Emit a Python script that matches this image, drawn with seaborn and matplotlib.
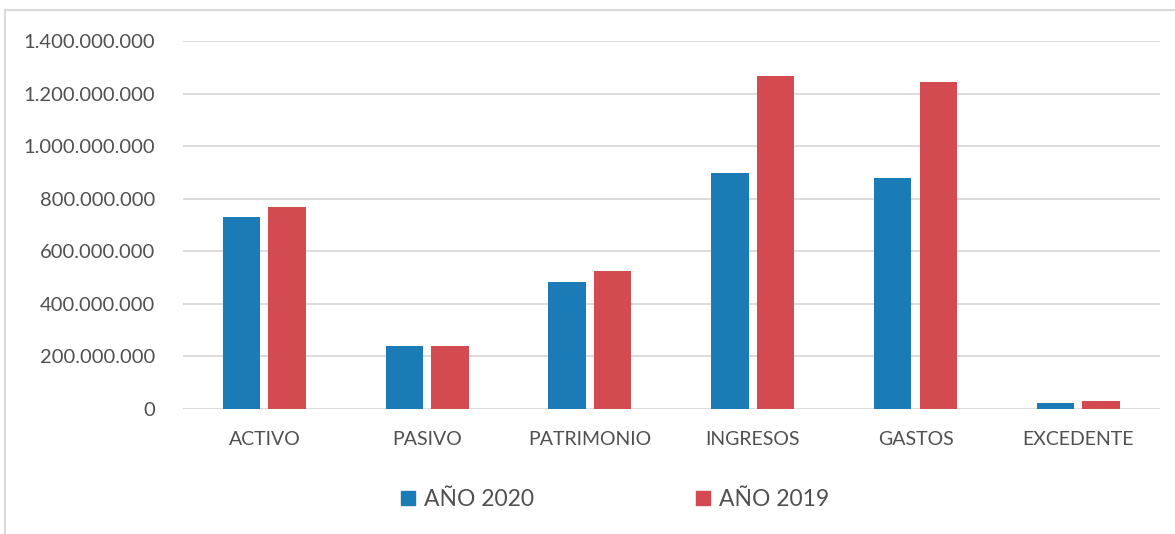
import matplotlib
matplotlib.use("Agg")
import matplotlib.pyplot as plt
import matplotlib.ticker as mticker
from matplotlib.lines import Line2D
import seaborn as sns
import pandas as pd

# datos
categorias = ["ACTIVO", "PASIVO", "PATRIMONIO", "INGRESOS", "GASTOS", "EXCEDENTE"]
anio_2020 = [729e6, 240e6, 484e6, 897e6, 881e6, 22e6]
anio_2019 = [770e6, 240e6, 526e6, 1268e6, 1243e6, 30e6]
series = ["AÑO 2020", "AÑO 2019"]
colores = ["#1B7BB6", "#D34A50"]

df = pd.DataFrame({
    "Categoria": categorias * 2,
    "Valor": anio_2020 + anio_2019,
    "Serie": [series[0]] * len(categorias) + [series[1]] * len(categorias),
})

sns.set_theme(style="white")
plt.rcParams["font.family"] = ["Lato", "DejaVu Sans"]

fig = plt.figure(figsize=(11.75, 5.34), dpi=100)
ax = fig.add_axes([0.1557, 0.234, 0.987 - 0.1557, 0.923 - 0.234])

sns.barplot(data=df, x="Categoria", y="Valor", hue="Serie", palette=colores,
            width=0.56, gap=0.18, ax=ax, legend=False, saturation=1,
            edgecolor="none")

ax.set_ylim(0, 1.4e9)
ax.set_xlim(-0.5, len(categorias) - 0.5)
ax.yaxis.set_major_locator(mticker.MultipleLocator(2e8))
ax.yaxis.set_major_formatter(
    mticker.FuncFormatter(lambda v, p: f"{int(v):,}".replace(",", ".")))
ax.grid(axis="y", color="#D9D9D9", linewidth=1.3)
ax.set_axisbelow(True)
for s in ax.spines.values():
    s.set_visible(False)
ax.set_xlabel("")
ax.set_ylabel("")
ax.tick_params(axis="y", length=0, pad=20, labelsize=14.5, labelcolor="#505050")
ax.tick_params(axis="x", length=0, pad=16, labelsize=14, labelcolor="#505050")

handles = [Line2D([0], [0], marker="s", linestyle="none", markersize=10,
                  markerfacecolor=c, markeredgecolor=c) for c in colores]
fig.legend(handles, series, loc="center", bbox_to_anchor=(0.523, 0.064),
           ncol=2, frameon=False, fontsize=16.5, columnspacing=7.0,
           handletextpad=0.35, handlelength=0.7, labelcolor="#505050")

# borde del área del gráfico (arriba e izquierda)
fig.add_artist(Line2D([0.0043, 1.0], [1 - 10 / 534, 1 - 10 / 534],
                      transform=fig.transFigure, color="#D9D9D9", linewidth=1.5))
fig.add_artist(Line2D([0.0043, 0.0043], [0.0, 1 - 10 / 534],
                      transform=fig.transFigure, color="#D9D9D9", linewidth=1.5))

fig.savefig("out.png", dpi=100)
